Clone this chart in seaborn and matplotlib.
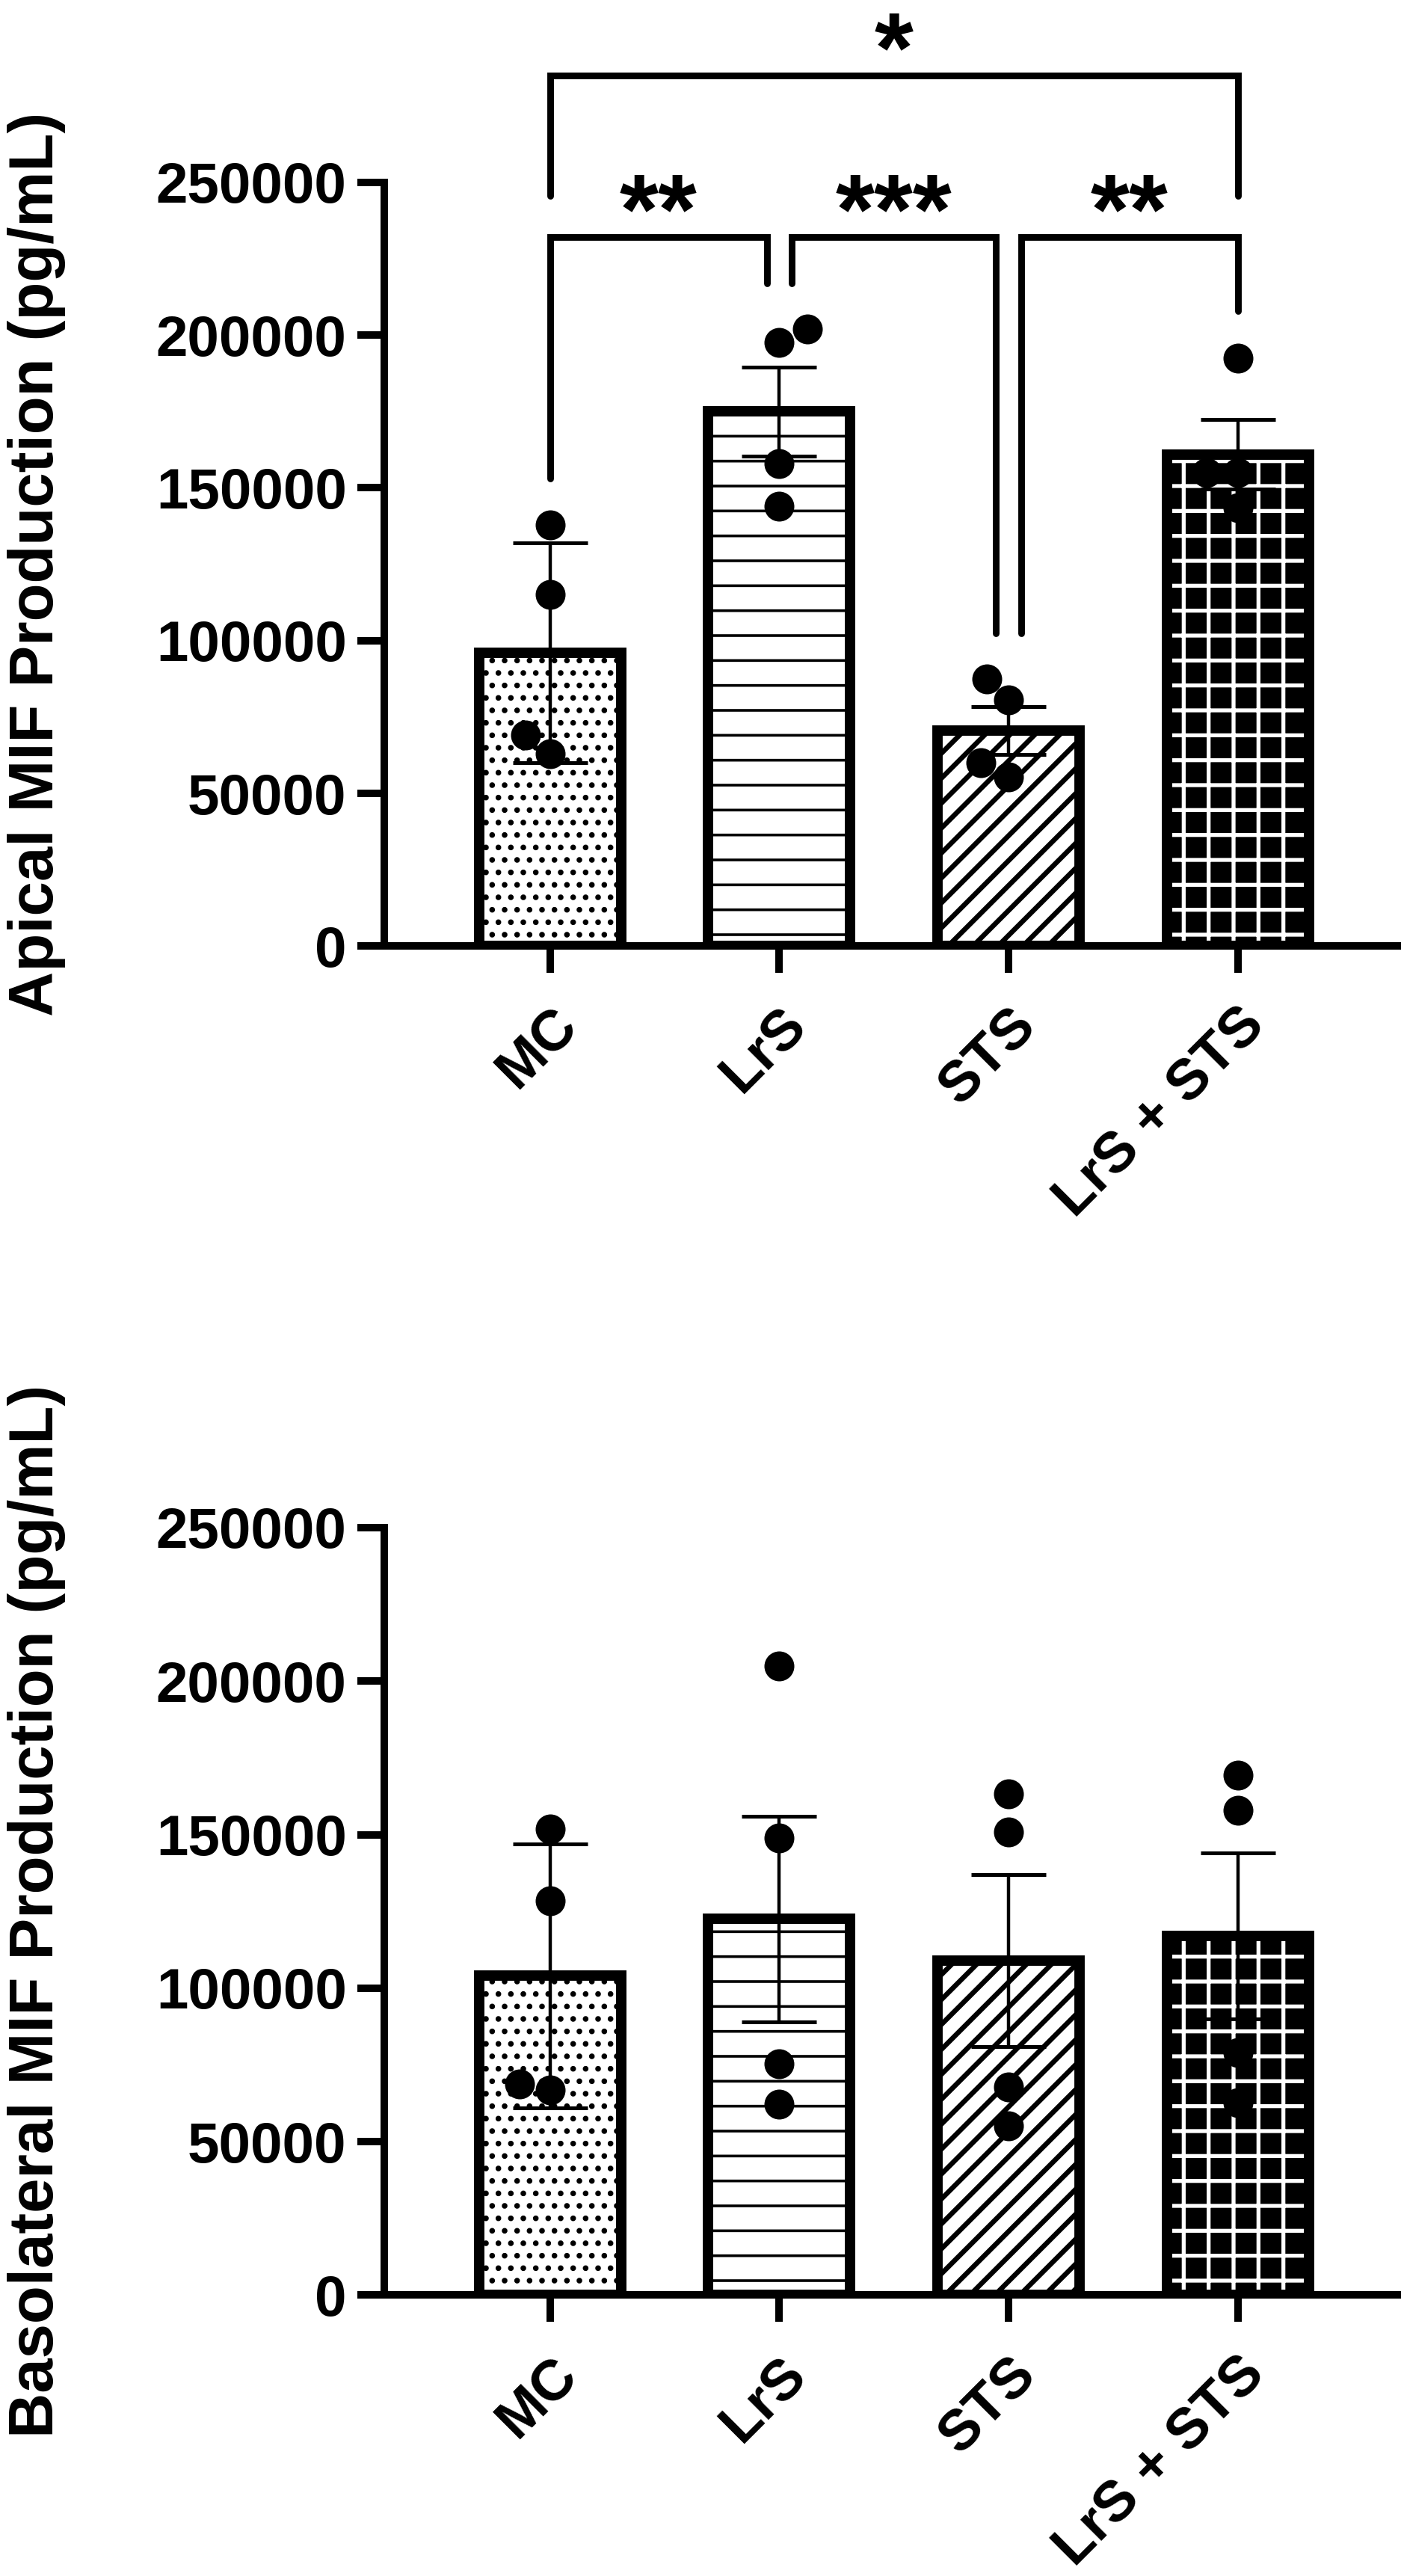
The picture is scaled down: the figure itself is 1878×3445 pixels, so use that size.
import matplotlib
matplotlib.use("Agg")
import matplotlib.pyplot as plt
import pandas as pd
import seaborn as sns

# groups on the x axis
groups = ["MC", "LrS", "STS", "LrS + STS"]

# apical panel
apical_mean = [96000, 175000, 70500, 161000]
apical_err = [36000, 14500, 7800, 11300]
apical_mc = [138000, 115000, 63000, 69000]
apical_lrs = [197500, 202000, 158000, 144000]
apical_sts = [80500, 87500, 55500, 60000]
apical_combo = [192500, 155000, 155000, 143500]

# basolateral panel
basal_mean = [104000, 122500, 109000, 117000]
basal_err = [43000, 33500, 28000, 27000]
basal_mc = [151800, 128500, 66800, 68800]
basal_lrs = [204900, 148800, 75300, 62300]
basal_sts = [163400, 150800, 67800, 55100]
basal_combo = [169400, 157900, 79000, 62800]

# significance brackets for the apical panel: (left, right, height, left end, right end, label)
apical_brackets = [
    (0, 1, 232000, 153000, 217000, "**"),
    (1, 2, 232000, 217000, 102500, "***"),
    (2, 3, 232000, 102500, 208000, "**"),
    (0, 3, 285000, 245500, 245500, "*"),
]

yticks = [0, 50000, 100000, 150000, 200000, 250000]

sns.set_style("ticks")
plt.rcParams["font.family"] = ["Liberation Sans", "DejaVu Sans"]
plt.rcParams["font.weight"] = "bold"
plt.rcParams["hatch.linewidth"] = 1.5
for key in ["text.color", "axes.labelcolor", "axes.edgecolor", "xtick.color", "ytick.color"]:
    plt.rcParams[key] = "black"

hatches = ["..", "-", "//", "+"]
faces = ["white", "white", "white", "black"]
hatch_cols = ["black", "black", "black", "white"]
hatch_lws = [1.5, 1.3, 2.4, 1.9]


def make_points(lists):
    rows = []
    for g, vals in zip(groups, lists):
        for v in vals:
            rows.append({"group": g, "value": v})
    return pd.DataFrame(rows)


def draw_panel(ax, means, errs, pts, ylabel):
    bars = pd.DataFrame({"group": groups, "mean": means})
    sns.barplot(data=bars, x="group", y="mean", order=groups, errorbar=None,
                width=0.62, color="white", ax=ax, zorder=1)
    for p, h, fc, hc, hlw in zip(ax.patches, hatches, faces, hatch_cols, hatch_lws):
        p.set_facecolor(fc)
        p.set_edgecolor(hc)
        p.set_hatch(h)
        p.set_linewidth(0)
        if hasattr(p, "set_hatch_linewidth"):
            p.set_hatch_linewidth(hlw)
    # thick outline on top of the hatched fill
    sns.barplot(data=bars, x="group", y="mean", order=groups, errorbar=None,
                width=0.62, fill=False, color="black", linewidth=5, ax=ax, zorder=2)

    ax.errorbar(range(len(groups)), means, yerr=errs, fmt="none", ecolor="black",
                elinewidth=1.6, capsize=18, capthick=1.8, zorder=3)

    sns.swarmplot(data=make_points(pts), x="group", y="value", order=groups,
                  color="black", size=14.4, ax=ax, zorder=4)

    ax.set_xlim(-0.725, 3.695)
    ax.set_ylim(0, 250000)
    ax.set_yticks(yticks)
    ax.set_yticklabels([str(t) for t in yticks], fontsize=27.5, fontweight="bold")
    ax.set_xticks(range(len(groups)))
    ax.set_xticklabels(groups, rotation=45, ha="right", rotation_mode="anchor",
                       fontsize=27.5, fontweight="bold")
    ax.set_xlabel("")
    ax.set_ylabel(ylabel, fontsize=30, fontweight="bold")
    ax.yaxis.set_label_coords(-0.314, 0.5)
    sns.despine(ax=ax)
    for s in ["left", "bottom"]:
        ax.spines[s].set_linewidth(3.6)
        ax.spines[s].set_color("black")
    ax.tick_params(axis="both", length=13, width=3.6, color="black", labelcolor="black")
    ax.tick_params(axis="y", pad=5)
    ax.tick_params(axis="x", pad=12)


def draw_brackets(ax, specs):
    for k, (i, j, top, y1, y2, label) in enumerate(specs):
        same = [s for n, s in enumerate(specs) if s[2] == top and n != k]
        xa = i + (0.055 if any(s[1] == i for s in same) else 0)
        xb = j - (0.055 if any(s[0] == j for s in same) else 0)
        ax.plot([xa, xa, xb, xb], [y1, top, top, y2], color="black", lw=3.2,
                clip_on=False, solid_joinstyle="miter", zorder=5)
        ax.text((xa + xb) / 2, top - 2000, label, ha="center", va="baseline",
                fontsize=48, fontweight="bold", color="black", clip_on=False)


fig = plt.figure(figsize=(9.39, 17.225), dpi=200)
ax_top = fig.add_axes([0.2735, 0.6327, 0.7215, 0.2965])
ax_bot = fig.add_axes([0.2735, 0.109, 0.7215, 0.298])

draw_panel(ax_top, apical_mean, apical_err,
           [apical_mc, apical_lrs, apical_sts, apical_combo],
           "Apical MIF Production (pg/mL)")
draw_brackets(ax_top, apical_brackets)

draw_panel(ax_bot, basal_mean, basal_err,
           [basal_mc, basal_lrs, basal_sts, basal_combo],
           "Basolateral MIF Production (pg/mL)")

fig.savefig("out.png", dpi=200, facecolor="white")
